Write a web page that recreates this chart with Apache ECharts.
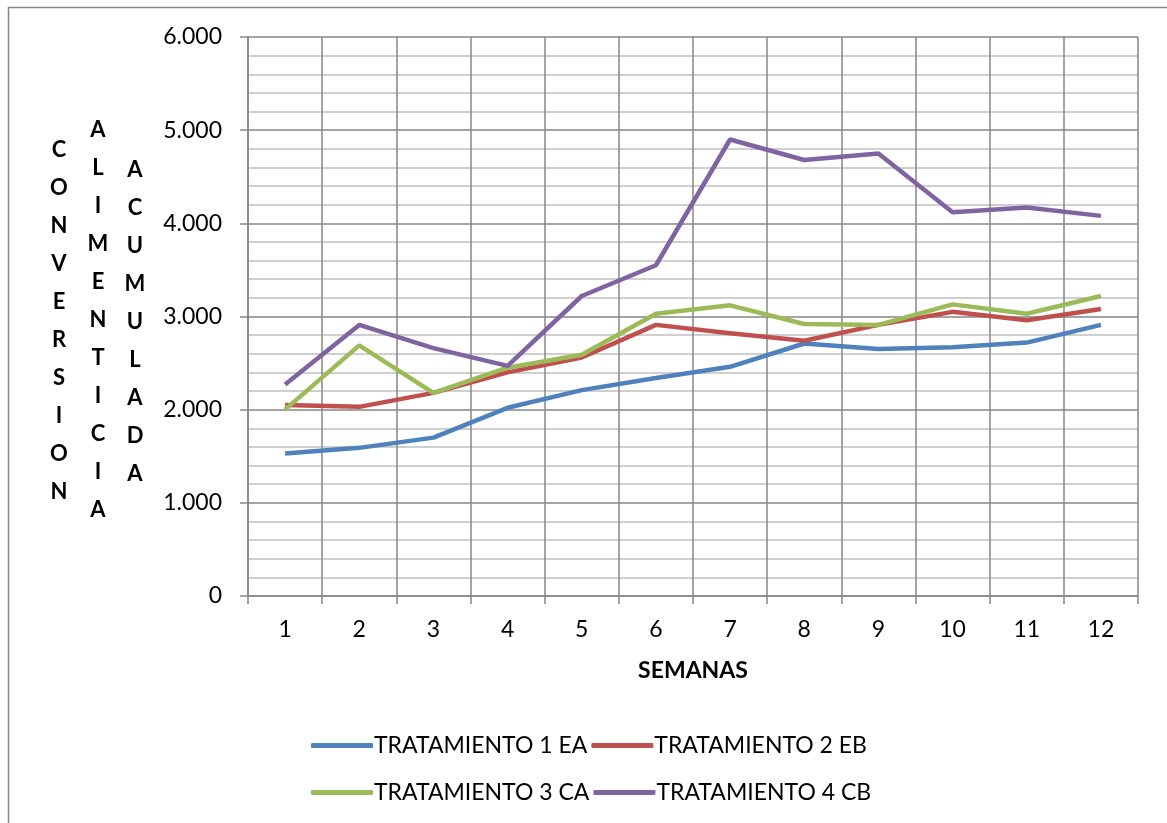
<!DOCTYPE html>
<html>
<head>
<meta charset="utf-8">
<script src="https://cdn.jsdelivr.net/npm/echarts@6/dist/echarts.min.js"></script>
<style>
html, body { margin: 0; padding: 0; background: #fff; }
#main { width: 1167px; height: 823px; }
</style>
</head>
<body>
<div id="main"></div>
<script>
// semanas y conversion alimenticia acumulada por tratamiento
var semanas = ['1', '2', '3', '4', '5', '6', '7', '8', '9', '10', '11', '12'];
var trat1 = [1.53, 1.59, 1.70, 2.02, 2.21, 2.34, 2.46, 2.71, 2.65, 2.67, 2.72, 2.91];
var trat2 = [2.05, 2.03, 2.18, 2.40, 2.56, 2.91, 2.82, 2.74, 2.91, 3.05, 2.96, 3.08];
var trat3 = [2.00, 2.69, 2.18, 2.45, 2.59, 3.03, 3.12, 2.92, 2.91, 3.13, 3.03, 3.22];
var trat4 = [2.27, 2.91, 2.66, 2.47, 3.22, 3.55, 4.90, 4.68, 4.75, 4.12, 4.17, 4.08];
var nombres = ['TRATAMIENTO 1 EA', 'TRATAMIENTO 2 EB', 'TRATAMIENTO 3 CA', 'TRATAMIENTO 4 CB'];
var colores = ['#4F81BD', '#C0504D', '#9BBB59', '#8064A2'];

var fuente = 'Lato';
var gris = '#868686';

function serie(i, datos) {
    return {
        name: nombres[i],
        type: 'line',
        data: datos,
        symbol: 'none',
        lineStyle: { width: 4.5, color: colores[i] },
        itemStyle: { color: colores[i] }
    };
}

function leyenda(top, items) {
    return {
        top: top,
        left: 306,
        icon: 'roundRect',
        itemWidth: 62,
        itemHeight: 5,
        itemGap: 4,
        data: items,
        textStyle: { fontFamily: fuente, fontSize: 23, color: '#000', padding: [0, 0, 0, -4] }
    };
}

// etiqueta vertical: una letra por renglon
function columna(x, yPrimera, palabra) {
    return {
        type: 'text', x: x, y: yPrimera - 19,
        style: { text: palabra.split('').join('\n'), fontFamily: fuente, fontSize: 22, fontWeight: 'bold',
                 lineHeight: 38, align: 'center', verticalAlign: 'top', fill: '#000' }
    };
}

var myChart = echarts.init(document.getElementById('main'));
var option = {
    animation: false,
    backgroundColor: '#fff',
    grid: { left: 248, right: 29, top: 37, bottom: 227 },
    legend: [
        leyenda(729, [nombres[0], nombres[1]]),
        leyenda(776, [nombres[2], nombres[3]])
    ],
    xAxis: {
        type: 'category',
        data: semanas,
        boundaryGap: true,
        name: 'SEMANAS',
        nameLocation: 'middle',
        nameGap: 63,
        nameTextStyle: { fontFamily: fuente, fontSize: 23, fontWeight: 'bold', color: '#000' },
        axisLine: { lineStyle: { color: gris, width: 1.5 } },
        axisTick: { show: true, length: 8, lineStyle: { color: gris, width: 1.5 } },
        axisLabel: { margin: 22, fontFamily: fuente, fontSize: 23, color: '#000' },
        splitLine: { show: true, lineStyle: { color: gris, width: 1.5 } }
    },
    yAxis: {
        type: 'value',
        min: 0,
        max: 6,
        interval: 1,
        axisLine: { show: true, lineStyle: { color: gris, width: 1.5 } },
        axisTick: { show: true, length: 8, lineStyle: { color: gris, width: 1.5 } },
        axisLabel: {
            margin: 26,
            fontFamily: fuente,
            fontSize: 23,
            color: '#000',
            formatter: function (v) { return v === 0 ? '0' : v.toFixed(3); }
        },
        splitLine: { show: true, lineStyle: { color: gris, width: 1.5 } },
        minorTick: { show: false, splitNumber: 5 },
        minorSplitLine: { show: true, lineStyle: { color: '#C0C0C0', width: 1.5 } }
    },
    series: [
        serie(0, trat1),
        serie(1, trat2),
        serie(2, trat3),
        serie(3, trat4)
    ],
    graphic: [
        {
            type: 'rect',
            shape: { x: 8.5, y: 7.5, width: 1300, height: 1000 },
            style: { fill: null, stroke: gris, lineWidth: 1.5 },
            silent: true
        },
        columna(59, 150, 'CONVERSION'),
        columna(98, 130, 'ALIMENTICIA'),
        columna(135, 170, 'ACUMULADA')
    ]
};
myChart.setOption(option);
</script>
</body>
</html>
